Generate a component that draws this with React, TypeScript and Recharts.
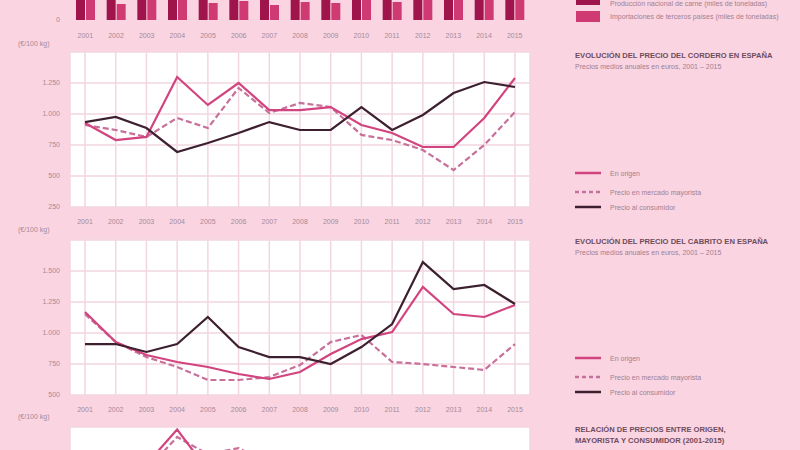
import React from 'react';
import { LineChart, Line, BarChart, Bar, XAxis, YAxis, CartesianGrid } from 'recharts';

const YEARS = ['2001', '2002', '2003', '2004', '2005', '2006', '2007', '2008', '2009', '2010', '2011', '2012', '2013', '2014', '2015'];

// barras superiores (miles de toneladas)
const PRODUCCION = [62, 58, 60, 55, 57, 54, 56, 53, 52, 50, 51, 49, 48, 50, 52];
const IMPORTACION = [30, 16, 28, 22, 17, 19, 15, 18, 17, 24, 18, 26, 30, 27, 32];

// cordero
const CORDERO_ORIGEN = [927, 790, 815, 1298, 1073, 1250, 1032, 1032, 1056, 911, 847, 734, 734, 968, 1290];
const CORDERO_MAYORISTA = [911, 871, 815, 968, 887, 1210, 1008, 1089, 1056, 831, 790, 710, 548, 750, 1016];
const CORDERO_CONSUMO = [935, 976, 887, 694, 766, 847, 935, 871, 871, 1056, 871, 992, 1169, 1258, 1218];

// cabrito
const CABRITO_ORIGEN = [1169, 927, 822, 766, 726, 669, 629, 685, 830, 951, 1008, 1371, 1153, 1129, 1226];
const CABRITO_MAYORISTA = [1153, 927, 806, 726, 621, 621, 645, 742, 927, 984, 766, 750, 726, 702, 911];
const CABRITO_CONSUMO = [911, 911, 847, 911, 1129, 887, 806, 806, 750, 887, 1072, 1572, 1355, 1387, 1234];

// relación
const RELACION_ORIGEN = [1050, 1120, 1200, 1480, 1150, 1200, 1080, 1010, 980, 940, 990, 1020, 960, 1000, 1040];
const RELACION_MAYORISTA = [1000, 1060, 1150, 1420, 1280, 1330, 1200, 1060, 990, 930, 950, 980, 940, 970, 1010];
const RELACION_CONSUMO = [820, 850, 880, 900, 870, 860, 890, 900, 880, 870, 900, 920, 930, 940, 950];

const TICKS_A = [250, 500, 750, 1000, 1250, 1500];
const TICKS_B = [500, 750, 1000, 1250, 1500, 1750];

const BG = '#fbd4e1';
const C_ORIGEN = '#d2447f';
const C_MAYOR = '#c7709a';
const C_CONSUMO = '#3d2030';
const TICK_COLOR = '#a58a99';
const TEXT_COLOR = '#a08090';
const FONT = '"Liberation Sans", Arial, sans-serif';

const fmt = (v: number) => String(v).replace(/\B(?=(\d{3})+(?!\d))/g, '.');

const makeRows = (a: number[], b: number[], c: number[]) =>
  YEARS.map((year, i) => ({ year, origen: a[i], mayorista: b[i], consumo: c[i] }));

const barRows = YEARS.map((year, i) => ({ year, produccion: PRODUCCION[i], importacion: IMPORTACION[i] }));

type PanelProps = {
  top: number;
  rows: any[];
  domain: [number, number];
  ticks: number[];
  showTicks?: boolean;
};

const Panel = ({ top, rows, domain, ticks, showTicks = true }: PanelProps) => (
  <div style={{ position: 'absolute', left: 0, top }}>
    <LineChart width={545} height={183} data={rows} margin={{ top: 10, right: 15, left: 10, bottom: 0 }}>
      <CartesianGrid fill="#ffffff" stroke="#f2d6e0" strokeWidth={1.5} />
      <XAxis
        dataKey="year"
        height={18}
        padding={{ left: 15, right: 15 }}
        tickLine={false}
        axisLine={false}
        tickMargin={6}
        interval={0}
        tick={showTicks ? { fontSize: 7, fill: TICK_COLOR, fontFamily: FONT } : false}
      />
      <YAxis
        width={60}
        domain={domain}
        ticks={ticks}
        tickFormatter={(v, i) => (i === ticks.length - 1 ? '' : fmt(v))}
        tickLine={false}
        axisLine={false}
        tickSize={0}
        tickMargin={10}
        tick={showTicks ? { fontSize: 7, fill: TICK_COLOR, fontFamily: FONT } : false}
        allowDataOverflow
      />
      <Line type="linear" dataKey="mayorista" stroke={C_MAYOR} strokeWidth={2.2} strokeDasharray="6 3" dot={false} isAnimationActive={false} />
      <Line type="linear" dataKey="origen" stroke={C_ORIGEN} strokeWidth={2.2} dot={false} isAnimationActive={false} />
      <Line type="linear" dataKey="consumo" stroke={C_CONSUMO} strokeWidth={2.2} dot={false} isAnimationActive={false} />
    </LineChart>
  </div>
);

const UnitLabel = ({ top }: { top: number }) => (
  <div style={{ position: 'absolute', left: 18, top, fontSize: 7, color: TICK_COLOR, fontFamily: FONT }}>(€/100 kg)</div>
);

const Title = ({ top, lines, sub }: { top: number; lines: string[]; sub?: string }) => (
  <div style={{ position: 'absolute', left: 575, top, width: 220, fontFamily: FONT }}>
    {lines.map((l) => (
      <div key={l} style={{ fontSize: 7.6, fontWeight: 700, color: '#6e4c5c', lineHeight: '11px', whiteSpace: 'nowrap' }}>{l}</div>
    ))}
    {sub && <div style={{ fontSize: 7, color: TEXT_COLOR, lineHeight: '11px', whiteSpace: 'nowrap' }}>{sub}</div>}
  </div>
);

const LegendLine = ({ y, color, dash, label }: { y: number; color: string; dash?: string; label: string }) => (
  <div style={{ position: 'absolute', left: 575, top: y - 6, height: 12, display: 'flex', alignItems: 'center', fontFamily: FONT }}>
    <svg width={26} height={12}>
      <line x1={0} y1={6} x2={26} y2={6} stroke={color} strokeWidth={2.5} strokeDasharray={dash} />
    </svg>
    <span style={{ marginLeft: 9, fontSize: 7, color: TEXT_COLOR, whiteSpace: 'nowrap' }}>{label}</span>
  </div>
);

const Legends = ({ ys }: { ys: number[] }) => (
  <>
    <LegendLine y={ys[0]} color={C_ORIGEN} label="En origen" />
    <LegendLine y={ys[1]} color={C_MAYOR} dash="4 3" label="Precio en mercado mayorista" />
    <LegendLine y={ys[2]} color={C_CONSUMO} label="Precio al consumidor" />
  </>
);

export default function App() {
  return (
    <div style={{ position: 'absolute', left: 0, top: 0, width: 800, height: 450, background: BG, overflow: 'hidden', fontFamily: FONT }}>
      {/* barras superiores, recortadas por arriba */}
      <div style={{ position: 'absolute', left: 0, top: -80 }}>
        <BarChart width={545} height={120} data={barRows} margin={{ top: 0, right: 15, left: 10, bottom: 0 }} barGap={1} barSize={9}>
          <XAxis
            dataKey="year"
            height={20}
            tickLine={false}
            axisLine={false}
            tickMargin={7}
            interval={0}
            tick={{ fontSize: 7, fill: TICK_COLOR, fontFamily: FONT }}
          />
          <YAxis
            width={60}
            domain={[0, 100]}
            ticks={[0]}
            tickLine={false}
            axisLine={false}
            tickSize={0}
            tickMargin={10}
            tick={{ fontSize: 7, fill: TICK_COLOR, fontFamily: FONT }}
          />
          <Bar dataKey="produccion" fill="#a0144c" isAnimationActive={false} />
          <Bar dataKey="importacion" fill="#cf3a72" isAnimationActive={false} />
        </BarChart>
      </div>
      <div style={{ position: 'absolute', left: 576, top: -6, width: 24, height: 11, background: '#a0144c' }} />
      <div style={{ position: 'absolute', left: 610, top: 0, fontSize: 7, color: TEXT_COLOR, whiteSpace: 'nowrap' }}>Producción nacional de carne (miles de toneladas)</div>
      <div style={{ position: 'absolute', left: 576, top: 11, width: 24, height: 11, background: '#cf3a72' }} />
      <div style={{ position: 'absolute', left: 610, top: 13, fontSize: 7, color: TEXT_COLOR, whiteSpace: 'nowrap' }}>Importaciones de terceros países (miles de toneladas)</div>

      <UnitLabel top={40} />
      <Panel top={42} rows={makeRows(CORDERO_ORIGEN, CORDERO_MAYORISTA, CORDERO_CONSUMO)} domain={[250, 1500]} ticks={TICKS_A} />
      <Title top={50} lines={['EVOLUCIÓN DEL PRECIO DEL CORDERO EN ESPAÑA']} sub="Precios medios anuales en euros, 2001 – 2015" />
      <Legends ys={[173, 192, 207]} />

      <UnitLabel top={226} />
      <Panel top={230} rows={makeRows(CABRITO_ORIGEN, CABRITO_MAYORISTA, CABRITO_CONSUMO)} domain={[500, 1750]} ticks={TICKS_B} />
      <Title top={236} lines={['EVOLUCIÓN DEL PRECIO DEL CABRITO EN ESPAÑA']} sub="Precios medios anuales en euros, 2001 – 2015" />
      <Legends ys={[358, 377, 392]} />

      <UnitLabel top={413} />
      <Panel top={417} rows={makeRows(RELACION_ORIGEN, RELACION_MAYORISTA, RELACION_CONSUMO)} domain={[250, 1500]} ticks={TICKS_A} showTicks={false} />
      <Title top={424} lines={['RELACIÓN DE PRECIOS ENTRE ORIGEN,', 'MAYORISTA Y CONSUMIDOR (2001-2015)']} />
    </div>
  );
}
